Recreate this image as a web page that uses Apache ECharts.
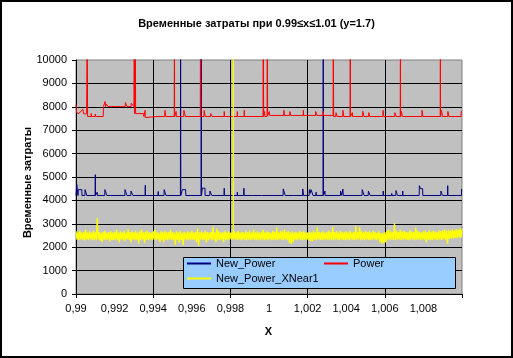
<!DOCTYPE html>
<html><head><meta charset="utf-8">
<script src="https://cdn.jsdelivr.net/npm/echarts@6/dist/echarts.min.js"></script>
<style>html,body{margin:0;padding:0;background:#fff}#c{width:513px;height:358px}</style>
</head><body><div id="c"></div>
<script>
const FONT = '"Liberation Sans", Arial, sans-serif';
const titleText = 'Временные затраты при 0.99≤x≤1.01 (y=1.7)';
const yAxisTitle = 'Временные затраты';
const xAxisTitle = 'X';
const seriesNames = ['New_Power', 'Power', 'New_Power_XNear1'];
const xTickLabels = ['0,99','0,992','0,994','0,996','0,998','1','1,002','1,004','1,006','1,008'];

const newPower = [
[0.99000,4210],[0.99003,4210],[0.99004,4680],[0.99009,4680],[0.99010,4210],[0.99012,4460],[0.99020,4400],[0.99030,4460],[0.99031,4210],
[0.99046,4210],[0.99047,4460],[0.99055,4460],[0.99056,4210],
[0.99099,4210],[0.99100,5100],[0.99101,4210],
[0.99109,4210],[0.99110,4350],[0.99111,4210],
[0.99149,4210],[0.99150,4460],[0.99159,4460],[0.99160,4210],
[0.99253,4210],[0.99254,4460],[0.99263,4460],[0.99264,4210],
[0.99284,4210],[0.99285,4400],[0.99294,4400],[0.99295,4210],
[0.99358,4210],[0.99359,4650],[0.99360,4210],
[0.99425,4210],[0.99426,4380],[0.99427,4210],
[0.99456,4210],[0.99457,4460],[0.99465,4460],[0.99466,4210],
[0.99541,4210],[0.99542,12000],[0.99543,4210],
[0.99550,4210],[0.99551,4460],[0.99558,4400],[0.99568,4460],[0.99569,4210],
[0.99648,4210],[0.99649,12000],[0.99650,4210],
[0.99653,4210],[0.99654,4520],[0.99668,4520],[0.99669,4210],
[0.99693,4210],[0.99694,4400],[0.99703,4400],[0.99704,4210],
[0.99767,4210],[0.99768,4520],[0.99769,4210],
[0.99835,4210],[0.99836,4350],[0.99837,4210],
[0.99869,4210],[0.99870,4520],[0.99871,4210],
[0.99916,4210],[0.99917,4260],[0.99918,4210],
[0.99961,4210],[0.99962,4290],[0.99967,4290],[0.99968,4210],
[1.00021,4210],[1.00022,4260],[1.00023,4210],
[1.00073,4210],[1.00074,4490],[1.00083,4490],[1.00084,4210],
[1.00125,4210],[1.00126,4260],[1.00127,4210],
[1.00174,4210],[1.00175,4490],[1.00178,4490],[1.00179,4210],
[1.00208,4210],[1.00209,4460],[1.00213,4300],[1.00218,4460],[1.00224,4380],[1.00228,4210],[1.00230,4170],[1.00231,4210],
[1.00243,4210],[1.00244,4350],[1.00245,4210],
[1.00280,4210],[1.00281,12000],[1.00282,4210],
[1.00289,4210],[1.00290,4400],[1.00291,4210],
[1.00370,4210],[1.00371,4400],[1.00377,4210],[1.00383,4480],[1.00385,4210],
[1.00482,4210],[1.00483,4460],[1.00492,4460],[1.00493,4210],
[1.00514,4210],[1.00515,4400],[1.00523,4400],[1.00524,4210],
[1.00591,4210],[1.00592,4400],[1.00593,4210],
[1.00635,4210],[1.00636,4300],[1.00637,4210],
[1.00657,4210],[1.00658,4420],[1.00665,4420],[1.00666,4210],
[1.00692,4210],[1.00693,4400],[1.00694,4210],
[1.00778,4210],[1.00779,4630],[1.00785,4500],[1.00796,4500],[1.00797,4210],
[1.00890,4210],[1.00891,4400],[1.00898,4400],[1.00899,4210],
[1.00925,4210],[1.00926,4630],[1.00927,4210],
[1.00997,4210],[1.00998,4490],[1.01000,4490]
];

const power = [
[0.99000,8100],[0.99003,7750],[0.99008,7710],[0.99010,7800],[0.99015,7710],[0.99020,7710],[0.99022,7680],[0.99035,7900],[0.99040,7700],[0.99055,7700],
[0.99058,12000],[0.99060,7585],
[0.99078,7585],[0.99079,7710],[0.99081,7585],
[0.99099,7585],[0.99100,7690],[0.99102,7585],
[0.99141,7585],[0.99142,8010],
[0.99150,8010],[0.99151,8230],[0.99153,8010],[0.99158,8110],[0.99162,8060],[0.99166,8010],
[0.99185,8010],[0.99186,8070],[0.99190,8010],
[0.99205,8010],[0.99206,8060],[0.99212,8060],[0.99213,8010],
[0.99230,8010],[0.99231,8050],[0.99240,8050],[0.99241,8010],
[0.99255,8010],[0.99256,8180],[0.99262,8100],[0.99265,8010],
[0.99285,8010],[0.99286,8150],[0.99295,8150],[0.99300,8010],
[0.99302,12000],[0.99304,7710],[0.99307,12000],[0.99309,7710],
[0.99350,7710],[0.99352,7585],
[0.99357,7585],[0.99358,7850],[0.99359,7540],[0.99360,7585],
[0.99419,7585],[0.99420,7660],[0.99425,7660],[0.99426,7585],
[0.99460,7585],[0.99461,7850],[0.99464,7780],[0.99465,7585],
[0.99509,7585],[0.99510,12000],[0.99511,7585],
[0.99518,7585],[0.99519,7800],[0.99520,7585],
[0.99558,7585],[0.99559,7850],[0.99562,7800],[0.99566,7800],[0.99567,7585],
[0.99644,7585],[0.99645,12000],[0.99647,7585],
[0.99663,7585],[0.99664,7850],[0.99668,7780],[0.99670,7585],
[0.99697,7585],[0.99698,7710],[0.99705,7710],[0.99706,7585],
[0.99767,7585],[0.99768,7800],[0.99770,7585],
[0.99835,7585],[0.99836,7800],[0.99837,7585],
[0.99871,7585],[0.99872,7850],[0.99873,7585],
[0.99969,7585],[0.99970,12000],[0.99972,7585],
[0.99976,7585],[0.99977,7800],[0.99979,7585],
[0.99990,7585],[0.99991,12000],[0.99993,7630],
[1.00001,7630],[1.00002,7800],[1.00003,7630],
[1.00076,7630],[1.00077,7850],[1.00080,7800],[1.00081,7630],
[1.00107,7630],[1.00108,7800],[1.00112,7800],[1.00113,7630],
[1.00177,7630],[1.00178,7850],[1.00179,7630],
[1.00241,7630],[1.00242,7800],[1.00248,7800],[1.00249,7630],
[1.00280,7630],[1.00281,7800],[1.00282,7630],
[1.00332,7630],[1.00333,12000],[1.00335,7585],
[1.00346,7585],[1.00347,7750],[1.00352,7750],[1.00353,7585],
[1.00382,7585],[1.00383,7850],[1.00386,7800],[1.00387,7585],
[1.00420,7585],[1.00421,12000],[1.00422,7585],
[1.00431,7585],[1.00432,7750],[1.00433,7585],
[1.00485,7585],[1.00486,7810],[1.00491,7810],[1.00492,7585],
[1.00516,7585],[1.00517,7750],[1.00521,7750],[1.00522,7585],
[1.00590,7585],[1.00591,7850],[1.00594,7800],[1.00595,7585],
[1.00651,7585],[1.00652,7750],[1.00658,7750],[1.00659,7585],
[1.00680,7585],[1.00681,12000],[1.00682,7585],
[1.00685,7585],[1.00686,7800],[1.00690,7800],[1.00691,7585],
[1.00792,7585],[1.00793,7850],[1.00797,7780],[1.00798,7585],
[1.00887,7585],[1.00888,12000],[1.00889,7585],
[1.00892,7585],[1.00893,7850],[1.00899,7850],[1.00900,7585],
[1.00926,7585],[1.00927,7800],[1.00931,7780],[1.00932,7585],
[1.00995,7585],[1.00996,7800],[1.01000,7800]
];

const xnearStart = 0.99;
const xnearStep = 0.00005;
const xnearValues = [
2680,2320,2640,2300,2700,2330,2620,2310,2660,2290,2750,2330,2630,2300,2680,2340,2620,2300,2700,2320,
2650,2300,3250,2330,2640,2280,2620,2210,2660,2320,2700,2300,2630,2330,2650,2240,2680,2310,2620,2300,
2660,2320,2750,2300,2630,2190,2680,2330,2640,2300,2700,2280,2620,2330,2760,2310,2650,2200,2680,2320,
2640,2300,2700,2320,2620,2150,2680,2300,2750,2330,2630,2180,2660,2310,2700,2300,2640,2330,2620,2290,
2680,2320,2750,2300,2640,2330,2620,2210,2680,2300,2650,2200,2700,2320,2630,2300,2660,2330,2740,2310,
2650,2300,2620,2100,2680,2320,2640,2180,2700,2300,2630,2090,2660,2330,2620,2300,2680,2320,2640,2300,
2700,2320,2630,2300,2660,2210,2800,2050,2640,2330,2680,2300,2620,2320,2700,2190,2650,2300,2630,2330,
2660,2300,2880,2320,2640,2200,2800,2310,2680,2300,2620,2330,2650,2200,2700,2320,2640,2300,2680,2330,
2620,2320,2650,2330,2680,2330,2640,2300,2700,2320,2630,2300,2660,2330,2620,2310,2680,2300,2650,2320,
2700,2300,2630,2330,2750,2310,2640,2300,2680,2320,2620,2300,2660,2330,2740,2300,2640,2320,2680,2300,
2650,2330,2620,2300,2700,2320,2660,2310,2830,2300,2640,2330,2700,2320,2680,2300,2760,2330,2650,2300,
2700,2180,2640,2150,2680,2200,2630,2320,2660,2300,2620,2330,2700,2310,2650,2300,2680,2320,2640,2300,
2620,2300,2660,2250,2640,2260,2700,2320,2630,2300,2850,2330,2660,2310,2640,2300,2680,2320,2620,2330,
2660,2300,2700,2320,2640,2310,2870,2300,2650,2330,2680,2320,2620,2300,2700,2330,2640,2310,2660,2300,
2680,2320,2640,2300,2700,2330,2620,2310,2660,2300,2900,2320,2650,2330,2850,2300,2680,2320,2640,2300,
2700,2330,2650,2310,2680,2300,2640,2320,2700,2330,2660,2300,2620,2320,2680,2200,2600,2150,2620,2180,
2650,2200,2700,2320,2750,2300,2680,2330,2640,2310,3030,2300,2700,2320,2660,2330,2750,2300,2680,2320,
2700,2330,2660,2310,2640,2300,2720,2320,2680,2330,2650,2300,2830,2320,2700,2330,2660,2300,2640,2320,
2680,2330,2700,2200,2650,2320,2720,2310,2660,2300,2700,2330,2680,2320,2650,2300,2720,2330,2690,2310,
2720,2340,2750,2320,2700,2150,2740,2350,2700,2380,2760,2360,2720,2400,2780,2380,2750,2420,2800,2400,
2780
];
// off-scale spike of New_Power_XNear1 near x = 0.99815 (goes above the 10000 axis max)
const xnearSpike = [[0.998151, 60000], [0.998152, 2330]];

const xnear = xnearValues.map((v, i) => [+(xnearStart + i * xnearStep).toFixed(5), v])
  .concat(xnearSpike)
  .sort((a, b) => a[0] - b[0]);

const colors = ['#000080', '#FF0000', '#FFFF00'];

const chart = echarts.init(document.getElementById('c'), null, {renderer: 'canvas'});
const lineSeries = (name, data, color, width) => ({
  name, type: 'line', data, showSymbol: false, symbol: 'none', animation: false,
  xAxisIndex: 0, yAxisIndex: 0, clip: true,
  lineStyle: {color, width}, itemStyle: {color},
  emphasis: {disabled: true}
});
const legendItem = (name, left, top) => ({
  data: [name], left, top, padding: 0, itemWidth: 24, itemHeight: 2, icon: 'rect',
  itemGap: 0, selectedMode: false, z: 5,
  textStyle: {fontFamily: FONT, fontSize: 11, color: '#000'}
});

chart.setOption({
  animation: false,
  backgroundColor: '#fff',
  color: colors,
  title: {
    text: titleText, left: 'center', top: 18, padding: 0,
    textStyle: {fontFamily: FONT, fontSize: 11, fontWeight: 'bold', color: '#000'}
  },
  grid: {left: 76, top: 60, width: 386, height: 234, show: true,
    backgroundColor: '#C0C0C0', borderColor: '#808080', borderWidth: 1},
  xAxis: [
    {type: 'value', min: 0.99, max: 1.01, interval: 0.004, position: 'bottom',
     axisLine: {show: true, onZero: false, lineStyle: {color: '#000', width: 1}},
     axisTick: {show: true, length: 4, lineStyle: {color: '#000'}},
     axisLabel: {show: false},
     splitLine: {show: true, showMaxLine: false, lineStyle: {color: '#000', width: 1}}},
    {type: 'value', min: 0.99, max: 1.01, interval: 0.002, position: 'bottom', gridIndex: 0,
     axisLine: {show: false}, axisTick: {show: false}, splitLine: {show: false},
     axisLabel: {show: true, margin: 9, showMaxLabel: false, color: '#000', fontFamily: FONT, fontSize: 11,
       formatter: v => { const k = Math.round((v - 0.99) / 0.002); return xTickLabels[k] !== undefined ? xTickLabels[k] : ''; }}}
  ],
  yAxis: {type: 'value', min: 0, max: 10000, interval: 1000,
    axisLine: {show: true, lineStyle: {color: '#000', width: 1}},
    axisTick: {show: true, length: 4, lineStyle: {color: '#000'}},
    axisLabel: {margin: 9, color: '#000', fontFamily: FONT, fontSize: 11, formatter: v => String(v)},
    splitLine: {show: true, showMaxLine: false, lineStyle: {color: '#000', width: 1}}},
  legend: [
    legendItem(seriesNames[0], 187, 258),
    legendItem(seriesNames[1], 324, 258),
    legendItem(seriesNames[2], 187, 273)
  ],
  series: [
    lineSeries(seriesNames[0], newPower, colors[0], 1),
    lineSeries(seriesNames[1], power, colors[1], 1),
    lineSeries(seriesNames[2], xnear, colors[2], 1.3)
  ],
  graphic: [
    {type: 'rect', z: 3, silent: true, shape: {x: 183.5, y: 257.5, width: 272, height: 31},
     style: {fill: '#99CCFF', stroke: '#000', lineWidth: 1}},
    {type: 'text', z: 3, silent: true, x: 27.5, y: 182.5, rotation: Math.PI / 2,
     style: {text: yAxisTitle, font: 'bold 11px ' + FONT, fill: '#000', align: 'center', verticalAlign: 'middle'}},
    {type: 'text', z: 3, silent: true, x: 268.5, y: 331.5,
     style: {text: xAxisTitle, font: 'bold 11px ' + FONT, fill: '#000', align: 'center', verticalAlign: 'middle'}},
    {type: 'rect', z: 10, silent: true, shape: {x: 1, y: 1, width: 511, height: 356},
     style: {fill: 'none', stroke: '#000', lineWidth: 2}}
  ]
});
</script></body></html>
